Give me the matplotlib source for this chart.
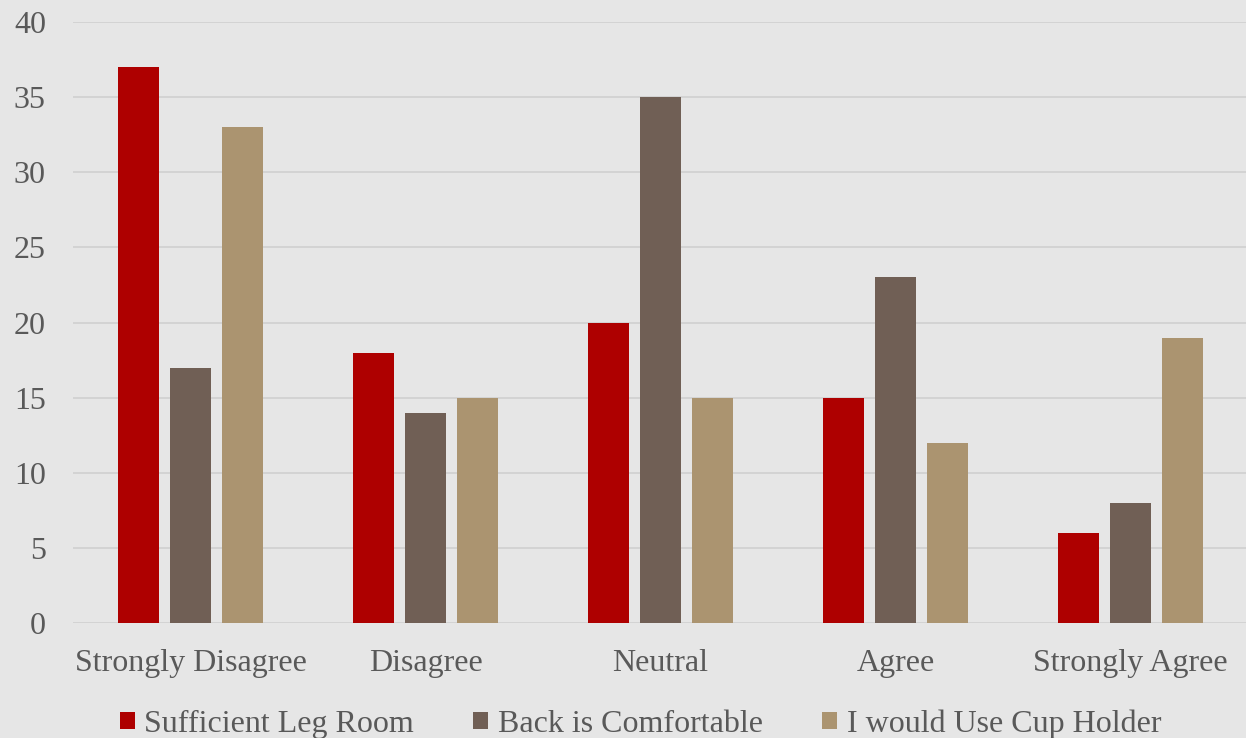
import matplotlib
matplotlib.use("Agg")
import matplotlib.pyplot as plt
import numpy as np

categories = ["Strongly Disagree", "Disagree", "Neutral", "Agree", "Strongly Agree"]
series_names = ["Sufficient Leg Room", "Back is Comfortable", "I would Use Cup Holder"]
leg_room = [37, 18, 20, 15, 6]
back_comfort = [17, 14, 35, 23, 8]
cup_holder = [33, 15, 15, 12, 19]
yticks = [0, 5, 10, 15, 20, 25, 30, 35, 40]

colors = ["#AE0000", "#705F55", "#AB9470"]
text_color = "#595959"
bg = "#e6e6e6"

plt.rcParams['font.family'] = ['Liberation Serif', 'DejaVu Serif']

fig = plt.figure(figsize=(12.46, 7.38), dpi=100)
fig.patch.set_facecolor(bg)
ax = fig.add_axes([73/1246, 115/738, 1175/1246, 601/738])
ax.set_facecolor(bg)

x = np.arange(len(categories))
w = 0.1745
offs = [-0.221, 0.0, 0.221]
for vals, off, c, name in zip([leg_room, back_comfort, cup_holder], offs, colors, series_names):
    ax.bar(x + off, vals, width=w, color=c, label=name, zorder=3)

ax.set_xlim(-0.5, 4.5)
ax.set_ylim(0, 40)
ax.set_yticks(yticks)
ax.set_xticks(x)
ax.set_xticklabels(categories)
ax.yaxis.grid(True, color="#d2d2d2", linewidth=1.3, zorder=0)
ax.set_axisbelow(True)
for s in ax.spines.values():
    s.set_visible(False)
ax.tick_params(axis='both', length=0, labelsize=23, colors=text_color)
ax.tick_params(axis='y', pad=19.5)
ax.tick_params(axis='x', pad=19)

leg = fig.legend(loc='lower center', bbox_to_anchor=(0.514, -0.04), ncol=3, frameon=False,
                 fontsize=23, handlelength=0.47, handleheight=0.47, handletextpad=0.3,
                 columnspacing=1.85)
for t in leg.get_texts():
    t.set_color(text_color)

fig.savefig("out.png", dpi=100, facecolor=bg)
